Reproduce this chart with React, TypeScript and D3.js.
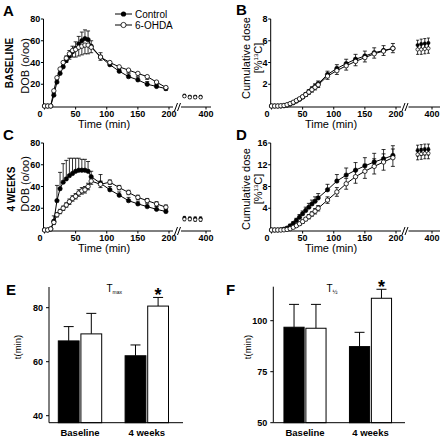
import React from "react";
import * as d3 from "d3";

const FONT = "'Liberation Sans', Arial, Helvetica, sans-serif";

// ---------- time axis ----------
const times = [0, 5, 10, 15, 20, 25, 30, 35, 40, 45, 50, 55, 60, 65, 70, 75, 90, 105, 120, 135, 150, 165, 180, 195];
const lateTimes = [320, 340, 360, 380];
const xTicks = [0, 50, 100, 150, 200];
const xLateTicks = [400];

// ---------- A: DOB baseline ----------
const dobBaseCtrl = [0, 0, 0, 10, 22, 30, 36, 42, 46, 50, 53, 57, 60, 62, 61, 55, 45, 38, 32, 27, 24, 20, 18, 16];
const dobBaseCtrlErr = [0, 0, 0.5, 2, 3, 3, 3, 4, 5, 5, 6, 7, 8, 8, 8, 5, 4, 2.5, 2.5, 2.5, 2.5, 2.5, 2, 2];
const dobBaseOhda = [0, 0, 0, 14, 26, 34, 40, 44, 48, 51, 52, 54, 55, 56, 56, 54, 45, 40, 36, 33, 30, 27, 22, 17];
const dobBaseOhdaErr = [0, 0, 0.5, 2, 2, 3, 3, 4, 5, 6, 7, 8, 8, 8, 8, 5, 3, 2.5, 2.5, 2.5, 2.5, 2.5, 2.5, 2.5];
const dobBaseCtrlLate = [9.5, 8.5, 8.5, 8.5];
const dobBaseOhdaLate = [9, 8, 8, 8];
const dobBaseLateErr = [1.2, 1.2, 1.2, 1.2];

// ---------- B: cumulative dose baseline ----------
const cumBaseCtrl = [0, 0, 0, 0, 0.02, 0.08, 0.18, 0.3, 0.45, 0.62, 0.82, 1.05, 1.3, 1.55, 1.8, 2.05, 2.9, 3.45, 3.9, 4.3, 4.6, 4.9, 5.1, 5.3];
const cumBaseCtrlErr = [0, 0, 0, 0, 0, 0.02, 0.05, 0.08, 0.1, 0.12, 0.15, 0.18, 0.2, 0.22, 0.24, 0.25, 0.3, 0.35, 0.4, 0.45, 0.45, 0.45, 0.45, 0.45];
const cumBaseOhda = [0, 0, 0, 0.02, 0.05, 0.12, 0.22, 0.35, 0.5, 0.66, 0.85, 1.05, 1.28, 1.5, 1.72, 1.95, 2.75, 3.25, 3.7, 4.1, 4.45, 4.8, 5.05, 5.3];
const cumBaseOhdaErr = [0, 0, 0, 0, 0, 0.02, 0.05, 0.08, 0.1, 0.12, 0.15, 0.18, 0.2, 0.22, 0.24, 0.25, 0.3, 0.35, 0.4, 0.4, 0.4, 0.4, 0.4, 0.4];
const cumBaseCtrlLate = [5.6, 5.7, 5.75, 5.8];
const cumBaseOhdaLate = [5.2, 5.2, 5.25, 5.3];
const cumBaseLateErr = [0.45, 0.45, 0.45, 0.45];

// ---------- C: DOB 4 weeks ----------
const dob4wCtrl = [0, 0, 1, 8, 27, 38, 44, 47, 50, 52, 54, 55, 55, 55, 54, 49, 43, 37, 32, 27, 24, 21.5, 19, 17];
const dob4wCtrlErr = [0, 0, 1, 5, 14, 15, 17, 17, 16, 14, 12, 11, 10, 10, 9, 5, 8, 3, 3, 3, 2.5, 2.5, 2.5, 2.5];
const dob4wOhda = [0, 0, 1, 7, 14, 17, 20, 23, 26, 29, 31, 34, 36, 37, 40, 45, 42, 44, 39, 34.5, 30, 27, 24, 21];
const dob4wOhdaErr = [0, 0, 0.5, 2, 2, 2, 2, 2, 2.5, 2.5, 2.5, 3, 3, 3, 3, 3, 3, 2, 2, 2, 2, 2, 2, 2];
const dob4wCtrlLate = [11, 10.5, 10.5, 10.5];
const dob4wOhdaLate = [10, 10, 9.5, 9.5];
const dob4wLateErr = [1.5, 1.5, 1.5, 1.5];

// ---------- D: cumulative dose 4 weeks ----------
const cum4wCtrl = [0, 0, 0, 0.05, 0.15, 0.35, 0.75, 1.2, 1.75, 2.35, 3.0, 3.6, 4.2, 4.8, 5.3, 5.9, 7.4, 9.0, 10.1, 11.0, 11.8, 12.5, 13.1, 13.7];
const cum4wCtrlErr = [0, 0, 0, 0, 0.1, 0.2, 0.3, 0.3, 0.4, 0.5, 0.5, 0.6, 0.7, 0.7, 0.8, 0.8, 1.0, 1.2, 1.3, 1.4, 1.5, 1.6, 1.7, 1.8];
const cum4wOhda = [0, 0, 0, 0, 0.03, 0.1, 0.25, 0.5, 0.8, 1.15, 1.55, 2.0, 2.45, 2.95, 3.45, 4.0, 5.5, 7.0, 8.5, 9.8, 10.8, 11.7, 12.5, 13.3];
const cum4wOhdaErr = [0, 0, 0, 0, 0, 0.1, 0.1, 0.2, 0.2, 0.3, 0.3, 0.3, 0.4, 0.4, 0.5, 0.5, 0.6, 0.8, 1.0, 1.2, 1.3, 1.4, 1.5, 1.6];
const cum4wCtrlLate = [14.6, 14.7, 14.8, 14.8];
const cum4wOhdaLate = [13.9, 14.0, 14.1, 14.1];
const cum4wLateErr = [1.0, 1.0, 1.0, 1.0];

// ---------- E / F: bar data ----------
const groups = ["Baseline", "4 weeks"];
const seriesNames = ["Control", "6-OHDA"];
const tmaxCtrl = [67.7, 62.2];
const tmaxCtrlErr = [5.3, 4.0];
const tmaxOhda = [70.3, 80.6];
const tmaxOhdaErr = [7.6, 3.2];
const thalfCtrl = [96.8, 87.3];
const thalfCtrlErr = [11.2, 7.0];
const thalfOhda = [96.3, 111.0];
const thalfOhdaErr = [11.7, 4.4];
const tmaxTicks = [40, 60, 80];
const thalfTicks = [50, 75, 100];
const significant = [false, true];

type Dir = "up" | "down" | "both";

function ErrBar({ x, y, v, e, dir, cap = 2 }: { x: number; y: (n: number) => number; v: number; e: number; dir: Dir; cap?: number }) {
  if (!e) return null;
  const hi = dir === "down" ? v : v + e;
  const lo = dir === "up" ? v : v - e;
  const parts: string[] = [`M${x},${y(lo)}V${y(hi)}`];
  if (dir !== "down") parts.push(`M${x - cap},${y(hi)}H${x + cap}`);
  if (dir !== "up") parts.push(`M${x - cap},${y(lo)}H${x + cap}`);
  return <path d={parts.join("")} stroke="#000" strokeWidth={0.8} fill="none" />;
}

interface LineProps {
  ax: number; axisY: number; zeroY: number; topY: number;
  x0: number; x200: number; seg1End: number; breakX: number; seg2Start: number; seg2End: number;
  lateRange: [number, number];
  yMax: number; yTicks: number[];
  ctrl: number[]; ctrlErr: number[]; ohda: number[]; ohdaErr: number[]; ohdaDir: Dir;
  ctrlLate: number[]; ohdaLate: number[]; lateErr: number[];
}

function LinePanel(p: LineProps) {
  const x = d3.scaleLinear().domain([0, 200]).range([p.x0, p.x200]);
  const xl = d3.scaleLinear().domain([300, 400]).range(p.lateRange);
  const y = d3.scaleLinear().domain([0, p.yMax]).range([p.zeroY, p.topY]);
  const line = d3.line<number>().x((_, i) => x(times[i])).y((d) => y(d));
  const tickFont = { fontFamily: FONT, fontSize: 9, fontWeight: 700 } as const;
  const r = 2.2;
  return (
    <g>
      {/* y axis */}
      <line x1={p.ax} x2={p.ax} y1={p.topY} y2={p.axisY} stroke="#000" strokeWidth={1} />
      {p.yTicks.map((t) => (
        <g key={t}>
          <line x1={p.ax - 2.5} x2={p.ax} y1={y(t)} y2={y(t)} stroke="#000" strokeWidth={1} />
          <text x={p.ax - 3.2} y={y(t)} dy="0.35em" textAnchor="end" {...tickFont}>{t}</text>
        </g>
      ))}
      {/* x axis segment 1 */}
      <line x1={p.ax} x2={p.seg1End} y1={p.axisY} y2={p.axisY} stroke="#000" strokeWidth={1} />
      {xTicks.map((t) => (
        <g key={t}>
          <line x1={x(t)} x2={x(t)} y1={p.axisY} y2={p.axisY + 2.5} stroke="#000" strokeWidth={1} />
          <text x={x(t) - (t === 0 ? 4.5 : 0)} y={p.axisY + 10} textAnchor="middle" {...tickFont}>{t}</text>
        </g>
      ))}
      {/* break */}
      <path d={`M${p.breakX - 3},${p.axisY + 4}L${p.breakX},${p.axisY - 4}M${p.breakX},${p.axisY + 4}L${p.breakX + 3},${p.axisY - 4}`} stroke="#000" strokeWidth={1} fill="none" />
      {/* x axis segment 2 */}
      <line x1={p.seg2Start} x2={p.seg2End} y1={p.axisY} y2={p.axisY} stroke="#000" strokeWidth={1} />
      {xLateTicks.map((t) => (
        <g key={t}>
          <line x1={xl(t)} x2={xl(t)} y1={p.axisY} y2={p.axisY + 2.5} stroke="#000" strokeWidth={1} />
          <text x={xl(t)} y={p.axisY + 10} textAnchor="middle" {...tickFont}>{t}</text>
        </g>
      ))}
      {/* lines */}
      <path d={line(p.ctrl) || ""} fill="none" stroke="#000" strokeWidth={1} />
      <path d={line(p.ohda) || ""} fill="none" stroke="#000" strokeWidth={1} />
      {/* error bars */}
      {p.ctrl.map((v, i) => <ErrBar key={"ce" + i} x={x(times[i])} y={y} v={v} e={p.ctrlErr[i]} dir="up" />)}
      {p.ohda.map((v, i) => <ErrBar key={"oe" + i} x={x(times[i])} y={y} v={v} e={p.ohdaErr[i]} dir={p.ohdaDir} />)}
      {p.ctrlLate.map((v, i) => <ErrBar key={"cle" + i} x={xl(lateTimes[i])} y={y} v={v} e={p.lateErr[i]} dir="both" cap={1.5} />)}
      {p.ohdaLate.map((v, i) => <ErrBar key={"ole" + i} x={xl(lateTimes[i])} y={y} v={v} e={p.lateErr[i]} dir="both" cap={1.5} />)}
      {/* markers */}
      {p.ctrl.map((v, i) => <circle key={"c" + i} cx={x(times[i])} cy={y(v)} r={r} fill="#000" stroke="#000" strokeWidth={0.6} />)}
      {p.ohda.map((v, i) => <circle key={"o" + i} cx={x(times[i])} cy={y(v)} r={r} fill="#fff" stroke="#000" strokeWidth={0.8} />)}
      {p.ctrlLate.map((v, i) => <circle key={"cl" + i} cx={xl(lateTimes[i])} cy={y(v)} r={1.7} fill="#000" stroke="#000" strokeWidth={0.5} />)}
      {p.ohdaLate.map((v, i) => <circle key={"ol" + i} cx={xl(lateTimes[i])} cy={y(v)} r={1.7} fill="#fff" stroke="#000" strokeWidth={0.7} />)}
    </g>
  );
}

interface BarProps {
  ax: number; topY: number; axisY: number; xAxisEnd: number;
  yDomain: [number, number]; yRange: [number, number]; yTicks: number[];
  bandRange: [number, number];
  ctrl: number[]; ctrlErr: number[]; ohda: number[]; ohdaErr: number[];
}

function BarPanel(p: BarProps) {
  const y = d3.scaleLinear().domain(p.yDomain).range(p.yRange);
  const xg = d3.scaleBand<string>().domain(groups).range(p.bandRange).padding(0);
  const xs = d3.scaleBand<string>().domain(seriesNames).range([11.7, xg.bandwidth() - 11.7]).paddingInner(0.08);
  const tickFont = { fontFamily: FONT, fontSize: 9, fontWeight: 700 } as const;
  const vals = [p.ctrl, p.ohda];
  const errs = [p.ctrlErr, p.ohdaErr];
  return (
    <g>
      {groups.map((g, gi) =>
        seriesNames.map((s, si) => {
          const bx = (xg(g) || 0) + (xs(s) || 0);
          const w = xs.bandwidth();
          const v = vals[si][gi];
          const e = errs[si][gi];
          const cx = bx + w / 2;
          return (
            <g key={g + s}>
              <path d={`M${cx},${y(v)}V${y(v + e)}M${cx - 5},${y(v + e)}H${cx + 5}`} stroke="#000" strokeWidth={1} />
              <rect x={bx} y={y(v)} width={w} height={p.axisY - y(v)} fill={si === 0 ? "#000" : "#fff"} stroke="#000" strokeWidth={1} />
              {si === 1 && significant[gi] && (
                <text x={cx} y={y(v + e) - 0.5} textAnchor="middle" fontFamily={FONT} fontSize={18} fontWeight={700} dy="0.55em" transform={`translate(0,-6)`}>*</text>
              )}
            </g>
          );
        })
      )}
      <line x1={p.ax} x2={p.ax} y1={p.topY} y2={p.axisY} stroke="#000" strokeWidth={1} />
      <line x1={p.ax} x2={p.xAxisEnd} y1={p.axisY} y2={p.axisY} stroke="#000" strokeWidth={1} />
      {p.yTicks.map((t) => (
        <g key={t}>
          <line x1={p.ax - 3} x2={p.ax} y1={y(t)} y2={y(t)} stroke="#000" strokeWidth={1} />
          <text x={p.ax - 6} y={y(t)} dy="0.35em" textAnchor="end" {...tickFont}>{t}</text>
        </g>
      ))}
      {groups.map((g) => (
        <text key={g} x={(xg(g) || 0) + xg.bandwidth() / 2} y={436} textAnchor="middle" fontFamily={FONT} fontSize={9.5} fontWeight={700}>{g}</text>
      ))}
    </g>
  );
}

function VLabel({ x, y, children, size = 11, weight = 400 }: { x: number; y: number; children: React.ReactNode; size?: number; weight?: number }) {
  return (
    <text transform={`translate(${x},${y}) rotate(-90)`} textAnchor="middle" fontFamily={FONT} fontSize={size} fontWeight={weight}>{children}</text>
  );
}

function CumLabel({ y }: { y: number }) {
  return (
    <g>
      <VLabel x={249.5} y={y}>Cumulative dose</VLabel>
      <VLabel x={262} y={y}>
        [%<tspan fontSize={6} dy={-4}>13</tspan><tspan dy={4}>C]</tspan>
      </VLabel>
    </g>
  );
}

export default function App() {
  const letter = { fontFamily: FONT, fontSize: 15, fontWeight: 700 } as const;
  const axisTitle = { fontFamily: FONT, fontSize: 11 } as const;
  const topRow = { axisY: 107, zeroY: 106, topY: 19 };
  const botRow = { axisY: 231, zeroY: 230, topY: 143 };
  const leftCol = { ax: 43.5, x0: 44.5, x200: 169, seg1End: 173, breakX: 177.5, seg2Start: 181, seg2End: 211, lateRange: [179, 206] as [number, number] };
  const rightCol = { ax: 270.7, x0: 271.5, x200: 396, seg1End: 401, breakX: 405, seg2Start: 408.5, seg2End: 440, lateRange: [414, 432] as [number, number] };
  return (
    <svg width={440} height={437} style={{ position: "absolute", left: 0, top: 0, background: "#fff" }}>
      <rect width={440} height={437} fill="#fff" />
      {/* panel letters */}
      <text x={3} y={16} {...letter}>A</text>
      <text x={236} y={15} {...letter}>B</text>
      <text x={3} y={140} {...letter}>C</text>
      <text x={236} y={140} {...letter}>D</text>
      <text x={6} y={295} {...letter}>E</text>
      <text x={226} y={295} {...letter}>F</text>

      {/* row labels */}
      <VLabel x={13} y={63} size={10} weight={700}>BASELINE</VLabel>
      <VLabel x={14.5} y={189} size={10} weight={700}>4 WEEKS</VLabel>
      <VLabel x={29} y={66}>DOB (o/oo)</VLabel>
      <VLabel x={29} y={184}>DOB (o/oo)</VLabel>
      <CumLabel y={58} />
      <CumLabel y={189} />

      {/* x axis titles */}
      <text x={104} y={127.5} textAnchor="middle" {...axisTitle}>Time (min)</text>
      <text x={331} y={127.5} textAnchor="middle" {...axisTitle}>Time (min)</text>
      <text x={104} y={251.5} textAnchor="middle" {...axisTitle}>Time (min)</text>
      <text x={331} y={251.5} textAnchor="middle" {...axisTitle}>Time (min)</text>

      <LinePanel {...leftCol} {...topRow} yMax={80} yTicks={[20, 40, 60, 80]}
        ctrl={dobBaseCtrl} ctrlErr={dobBaseCtrlErr} ohda={dobBaseOhda} ohdaErr={dobBaseOhdaErr} ohdaDir="down"
        ctrlLate={dobBaseCtrlLate} ohdaLate={dobBaseOhdaLate} lateErr={dobBaseLateErr} />
      <LinePanel {...rightCol} {...topRow} yMax={8} yTicks={[2, 4, 6, 8]}
        ctrl={cumBaseCtrl} ctrlErr={cumBaseCtrlErr} ohda={cumBaseOhda} ohdaErr={cumBaseOhdaErr} ohdaDir="down"
        ctrlLate={cumBaseCtrlLate} ohdaLate={cumBaseOhdaLate} lateErr={cumBaseLateErr} />
      <LinePanel {...leftCol} {...botRow} yMax={80} yTicks={[20, 40, 60, 80]}
        ctrl={dob4wCtrl} ctrlErr={dob4wCtrlErr} ohda={dob4wOhda} ohdaErr={dob4wOhdaErr} ohdaDir="both"
        ctrlLate={dob4wCtrlLate} ohdaLate={dob4wOhdaLate} lateErr={dob4wLateErr} />
      <LinePanel {...rightCol} {...botRow} yMax={16} yTicks={[4, 8, 12, 16]}
        ctrl={cum4wCtrl} ctrlErr={cum4wCtrlErr} ohda={cum4wOhda} ohdaErr={cum4wOhdaErr} ohdaDir="both"
        ctrlLate={cum4wCtrlLate} ohdaLate={cum4wOhdaLate} lateErr={cum4wLateErr} />

      {/* legend */}
      <g>
        <line x1={115} x2={132} y1={14} y2={14} stroke="#000" strokeWidth={1} />
        <circle cx={123.5} cy={14} r={2.6} fill="#000" />
        <text x={135} y={17.5} fontFamily={FONT} fontSize={10}>{seriesNames[0]}</text>
        <line x1={115} x2={132} y1={25} y2={25} stroke="#000" strokeWidth={1} />
        <circle cx={123.5} cy={25} r={2.6} fill="#fff" stroke="#000" strokeWidth={0.8} />
        <text x={135} y={28.5} fontFamily={FONT} fontSize={10}>{seriesNames[1]}</text>
      </g>

      {/* bar panels */}
      <BarPanel ax={49} topY={287} axisY={422.7} xAxisEnd={183} yDomain={[40, 80]} yRange={[415.7, 307.7]} yTicks={tmaxTicks}
        bandRange={[46.6, 180.2]} ctrl={tmaxCtrl} ctrlErr={tmaxCtrlErr} ohda={tmaxOhda} ohdaErr={tmaxOhdaErr} />
      <BarPanel ax={273.3} topY={286.7} axisY={422.7} xAxisEnd={405} yDomain={[50, 100]} yRange={[422.7, 320.7]} yTicks={thalfTicks}
        bandRange={[272.25, 403.25]} ctrl={thalfCtrl} ctrlErr={thalfCtrlErr} ohda={thalfOhda} ohdaErr={thalfOhdaErr} />

      {/* bar titles */}
      <text x={106.5} y={292} fontFamily={FONT} fontSize={10}>T<tspan fontSize={5} dy={1.5}>max</tspan></text>
      <text x={326.5} y={292} fontFamily={FONT} fontSize={10}>T<tspan fontSize={6} dy={1.5}>½</tspan></text>
      <VLabel x={21} y={347} size={9.5}>t(min)</VLabel>
      <VLabel x={251} y={347} size={9.5}>t(min)</VLabel>
    </svg>
  );
}
